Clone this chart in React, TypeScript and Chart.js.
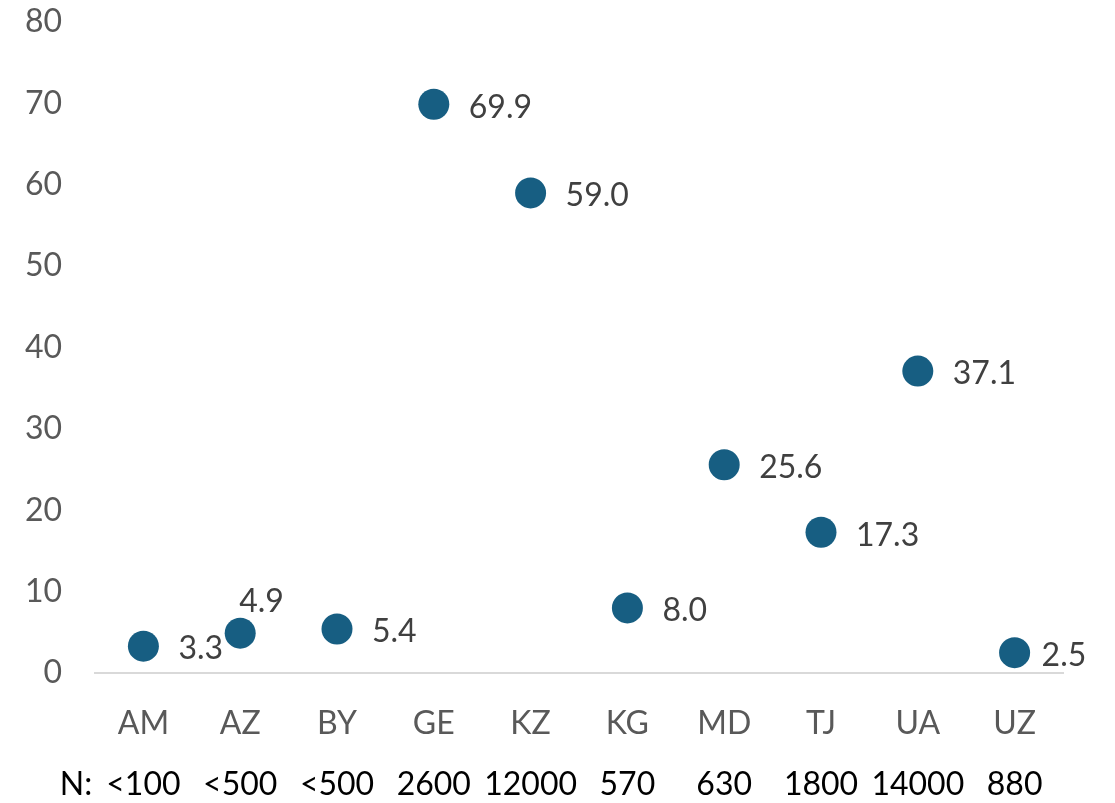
import React, { useEffect, useRef } from "react";
import { Chart, registerables } from "chart.js";

Chart.register(...registerables);

const categories = ["AM", "AZ", "BY", "GE", "KZ", "KG", "MD", "TJ", "UA", "UZ"];
const values = [3.3, 4.9, 5.4, 69.9, 59.0, 8.0, 25.6, 17.3, 37.1, 2.5];
const sampleSizes = ["<100", "<500", "<500", "2600", "12000", "570", "630", "1800", "14000", "880"];
const sampleLabelPrefix = "N:";
const labelPlacement = ["right", "above", "right", "right", "right", "right", "right", "right", "right", "rightNear"];
const yTicks = [0, 10, 20, 30, 40, 50, 60, 70, 80];

const FONT = "Lato, 'Open Sans', sans-serif";
const FS = 32;
const DOT = "#175e82";

const extrasPlugin = {
  id: "extras",
  afterDatasetsDraw(chart: any) {
    const ctx = chart.ctx;
    const meta = chart.getDatasetMeta(0);
    ctx.save();
    ctx.font = `${FS}px ${FONT}`;
    ctx.fillStyle = "#404040";
    ctx.textBaseline = "middle";
    meta.data.forEach((pt: any, i: number) => {
      const txt = values[i].toFixed(1);
      ctx.textAlign = "left";
      const place = labelPlacement[i];
      if (place === "above") {
        ctx.fillText(txt, pt.x - 1, pt.y - 31);
      } else if (place === "rightNear") {
        ctx.fillText(txt, pt.x + 27, pt.y + 3);
      } else {
        ctx.fillText(txt, pt.x + 35, pt.y + 3);
      }
    });
    // N row
    const xScale = chart.scales.x;
    ctx.fillStyle = "#000000";
    ctx.textAlign = "center";
    const rowY = 785;
    sampleSizes.forEach((s, i) => {
      ctx.fillText(s, xScale.getPixelForValue(i), rowY);
    });
    const firstX = xScale.getPixelForValue(0);
    const w = ctx.measureText(sampleSizes[0]).width;
    ctx.textAlign = "right";
    ctx.fillText(sampleLabelPrefix, firstX - w / 2 - 14, rowY);
    ctx.restore();
  },
};

export default function App() {
  const ref = useRef<HTMLCanvasElement | null>(null);
  useEffect(() => {
    document.body.style.margin = "0";
    const chart = new Chart(ref.current as HTMLCanvasElement, {
      type: "line",
      data: {
        labels: categories,
        datasets: [
          {
            data: values,
            showLine: false,
            pointRadius: 15.5,
            pointHoverRadius: 15.5,
            pointBackgroundColor: DOT,
            pointBorderColor: DOT,
            pointBorderWidth: 0,
          },
        ],
      },
      options: {
        animation: false,
        responsive: false,
        devicePixelRatio: 1,
        layout: { padding: { top: 22, right: 52, left: 0, bottom: 0 } },
        plugins: { legend: { display: false }, tooltip: { enabled: false } },
        scales: {
          x: {
            type: "category",
            offset: true,
            grid: { display: true, color: "transparent", drawTicks: false },
            border: { display: true, color: "#d9d9d9", width: 2 },
            ticks: { color: "#595959", font: { family: FONT, size: FS }, padding: 31, maxRotation: 0, autoSkip: false },
            afterFit: (s: any) => {
              s.height = 130;
              s.paddingLeft = 0;
              s.paddingRight = 0;
            },
          },
          y: {
            min: 0,
            max: 80,
            afterBuildTicks: (s: any) => {
              s.ticks = yTicks.map((v) => ({ value: v }));
            },
            grid: { display: false },
            border: { display: false },
            ticks: { color: "#595959", font: { family: FONT, size: FS }, padding: 25 },
            afterFit: (s: any) => {
              s.width = 95;
              s.paddingTop = 0;
              s.paddingBottom = 0;
            },
          },
        },
      },
      plugins: [extrasPlugin],
    });
    return () => chart.destroy();
  }, []);
  return (
    <div style={{ position: "absolute", left: 0, top: 0, width: 1115, height: 803 }}>
      <canvas ref={ref} width={1115} height={803} style={{ width: 1115, height: 803 }} />
    </div>
  );
}
